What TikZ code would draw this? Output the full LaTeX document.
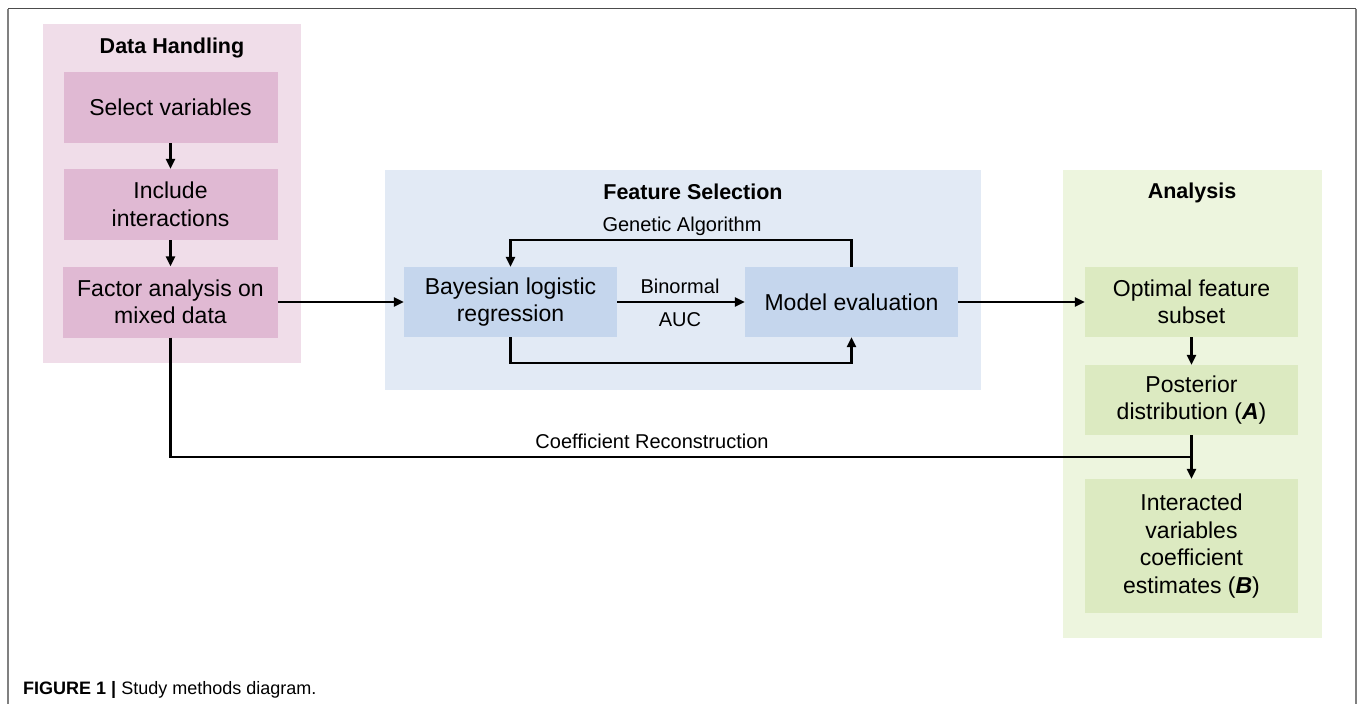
\documentclass[tikz,border=0pt]{standalone}
\usepackage{fontspec}
\setmainfont{Liberation Sans}
\usetikzlibrary{arrows.meta}
\definecolor{pinkpanel}{RGB}{240,221,233}
\definecolor{pinkbox}{RGB}{224,185,211}
\definecolor{bluepanel}{RGB}{226,234,245}
\definecolor{bluebox}{RGB}{197,214,237}
\definecolor{greenpanel}{RGB}{237,245,222}
\definecolor{greenbox}{RGB}{220,234,193}
\tikzset{
  panel/.style={inner sep=0pt, draw=none},
  boxtext/.style={inner sep=0pt, align=center, font=\fontsize{23}{27.5}\selectfont},
  pbox/.style={boxtext, fill=pinkbox},
  bbox/.style={boxtext, fill=bluebox},
  gbox/.style={boxtext, fill=greenbox},
  title/.style={inner sep=0pt, font=\fontsize{21.5}{25}\selectfont\bfseries},
  lbl/.style={inner sep=0pt, font=\fontsize{20}{24}\selectfont},
  arr/.style={-{Triangle[length=10pt,width=9pt]}, line width=2.6pt},
  conn/.style={line width=2.6pt},
}
\begin{document}
\begin{tikzpicture}[x=1pt,y=-1pt]
\path[use as bounding box] (0,0) rectangle (1357,704);
% frame
\draw[line width=1.4pt, black!70] (8,8.5) -- (1355.5,8.5);
\draw[line width=1.6pt, black!50] (8,8.5) -- (8,704);
\draw[line width=2pt, black!50] (1355.5,8.5) -- (1355.5,704);
% panels
\node[panel, fill=pinkpanel, minimum width=258pt, minimum height=339pt] (pL) at (172,193.5) {};
\node[panel, fill=bluepanel, minimum width=596pt, minimum height=220pt] (pM) at (683,280) {};
\node[panel, fill=greenpanel, minimum width=259pt, minimum height=468pt] (pR) at (1192.5,404) {};
% titles
\node[title] (tL) at (172,48) {Data Handling};
\node[title] (tM) at (693,192) {Feature Selection};
\node[title] (tR) at (1192,193) {Analysis};
% left boxes
\node[pbox, minimum width=214pt, minimum height=71pt] (sel) at (170.5,107.5) {Select variables};
\node[pbox, minimum width=214pt, minimum height=71pt] (inc) at (170.5,204.5) {Include\\interactions};
\node[pbox, minimum width=215pt, minimum height=71pt] (fac) at (170.5,302) {Factor analysis on\\mixed data};
% middle boxes
\node[bbox, minimum width=213pt, minimum height=70pt] (bay) at (510.5,302) {Bayesian logistic\\regression};
\node[bbox, minimum width=213pt, minimum height=70pt] (mod) at (851.5,302) {Model evaluation};
% right boxes
\node[gbox, minimum width=213pt, minimum height=70pt] (opt) at (1191.5,302) {Optimal feature\\subset};
\node[gbox, minimum width=213pt, minimum height=70pt] (post) at (1191.5,400) {Posterior\\distribution (\textbf{\textit{A}})};
\node[gbox, minimum width=213pt, minimum height=134pt] (inter) at (1191.5,546) {Interacted\\variables\\coefficient\\estimates (\textbf{\textit{B}})};
% labels
\node[lbl] (ga) at (682,226) {Genetic Algorithm};
\node[lbl] (bin) at (680,286) {Binormal};
\node[lbl] (auc) at (680,320) {AUC};
\node[lbl] (coef) at (652,441) {Coefficient Reconstruction};
% connectors
\draw[arr] (sel.south) -- (inc.north);
\draw[arr] (inc.south) -- (fac.north);
\draw[arr] (fac.east) -- (bay.west);
\draw[arr] (bay.east) -- (mod.west);
\coordinate (gt) at (682,240);
\coordinate (gb) at (682,363);
\draw[arr] (mod.north) |- (gt) -| (bay.north);
\draw[arr] (bay.south) |- (gb) -| (mod.south);
\draw[arr] (mod.east) -- (opt.west);
\draw[arr] (opt.south) -- (post.north);
\draw[arr] (post.south) -- (inter.north);
\coordinate (join) at (1191.5,457);
\draw[conn] (fac.south) |- (join);
% caption
\node[anchor=base west, inner sep=0pt, font=\fontsize{18}{22}\selectfont] (cap) at (23,694) {\textbf{FIGURE 1 |} Study methods diagram.};
\end{tikzpicture}
\end{document}
